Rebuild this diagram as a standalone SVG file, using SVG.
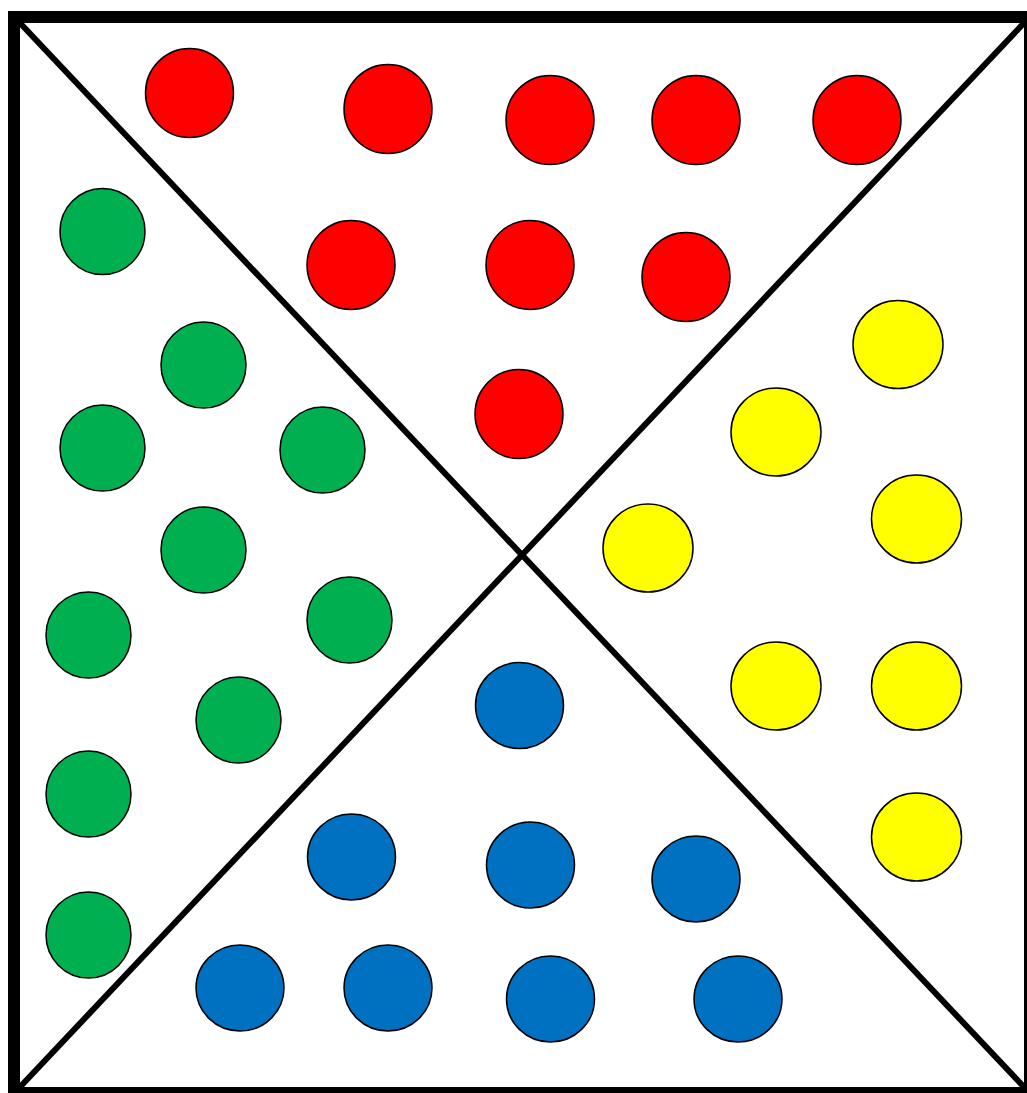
<svg xmlns="http://www.w3.org/2000/svg" width="1027" height="1093" viewBox="0 0 1027 1093">
<style>
.r{fill:#ff0000;stroke:#000;stroke-width:1.5}
.g{fill:#00b050;stroke:#000;stroke-width:1.5}
.y{fill:#ffff00;stroke:#000;stroke-width:1.5}
.b{fill:#0070c0;stroke:#000;stroke-width:1.5}
.ln{stroke:#000;stroke-width:6;fill:none}
</style>
<rect width="1027" height="1093" fill="#fff"/>
<g id="frame">
<rect x="14" y="17" width="1016" height="1076" fill="none" stroke="#000" stroke-width="12"/>
<line class="ln" x1="20" y1="23" x2="1024" y2="1087"/>
<line class="ln" x1="1024" y1="23" x2="20" y2="1087"/>
</g>
<g id="red">
<ellipse class="r" cx="189.5" cy="93" rx="44" ry="44.5"/>
<ellipse class="r" cx="388" cy="109" rx="44" ry="44.5"/>
<ellipse class="r" cx="550" cy="120" rx="44" ry="44.5"/>
<ellipse class="r" cx="696" cy="120" rx="44" ry="44.5"/>
<ellipse class="r" cx="857" cy="120" rx="44" ry="44.5"/>
<ellipse class="r" cx="351" cy="265" rx="44" ry="44.5"/>
<ellipse class="r" cx="530" cy="265" rx="44" ry="44.5"/>
<ellipse class="r" cx="686" cy="277" rx="44" ry="44.5"/>
<ellipse class="r" cx="519" cy="414" rx="44" ry="44.5"/>
</g>
<g id="green">
<ellipse class="g" cx="102.5" cy="231.5" rx="42.5" ry="43"/>
<ellipse class="g" cx="203.5" cy="365" rx="42.5" ry="43"/>
<ellipse class="g" cx="102.5" cy="448" rx="42.5" ry="43"/>
<ellipse class="g" cx="322.5" cy="450" rx="42.5" ry="43"/>
<ellipse class="g" cx="203.5" cy="550" rx="42.5" ry="43"/>
<ellipse class="g" cx="88.5" cy="635" rx="42.5" ry="43"/>
<ellipse class="g" cx="349.5" cy="620" rx="42.5" ry="43"/>
<ellipse class="g" cx="238.5" cy="720" rx="42.5" ry="43"/>
<ellipse class="g" cx="88.5" cy="794" rx="42.5" ry="43"/>
<ellipse class="g" cx="88.5" cy="935" rx="42.5" ry="43"/>
</g>
<g id="yellow">
<ellipse class="y" cx="898" cy="344.5" rx="45" ry="44"/>
<ellipse class="y" cx="776" cy="432" rx="45" ry="44"/>
<ellipse class="y" cx="916.5" cy="519" rx="45" ry="44"/>
<ellipse class="y" cx="648" cy="548" rx="45" ry="44"/>
<ellipse class="y" cx="776" cy="686" rx="45" ry="44"/>
<ellipse class="y" cx="916.5" cy="686" rx="45" ry="44"/>
<ellipse class="y" cx="916.5" cy="837" rx="45" ry="44"/>
</g>
<g id="blue">
<ellipse class="b" cx="519.5" cy="705.5" rx="44" ry="43"/>
<ellipse class="b" cx="351.5" cy="857" rx="44" ry="43"/>
<ellipse class="b" cx="530.5" cy="865" rx="44" ry="43"/>
<ellipse class="b" cx="696" cy="879" rx="44" ry="43"/>
<ellipse class="b" cx="240" cy="988" rx="44" ry="43"/>
<ellipse class="b" cx="388" cy="988" rx="44" ry="43"/>
<ellipse class="b" cx="550.5" cy="999" rx="44" ry="43"/>
<ellipse class="b" cx="738" cy="999" rx="44" ry="43"/>
</g>
<g id="connectors"/>
</svg>
